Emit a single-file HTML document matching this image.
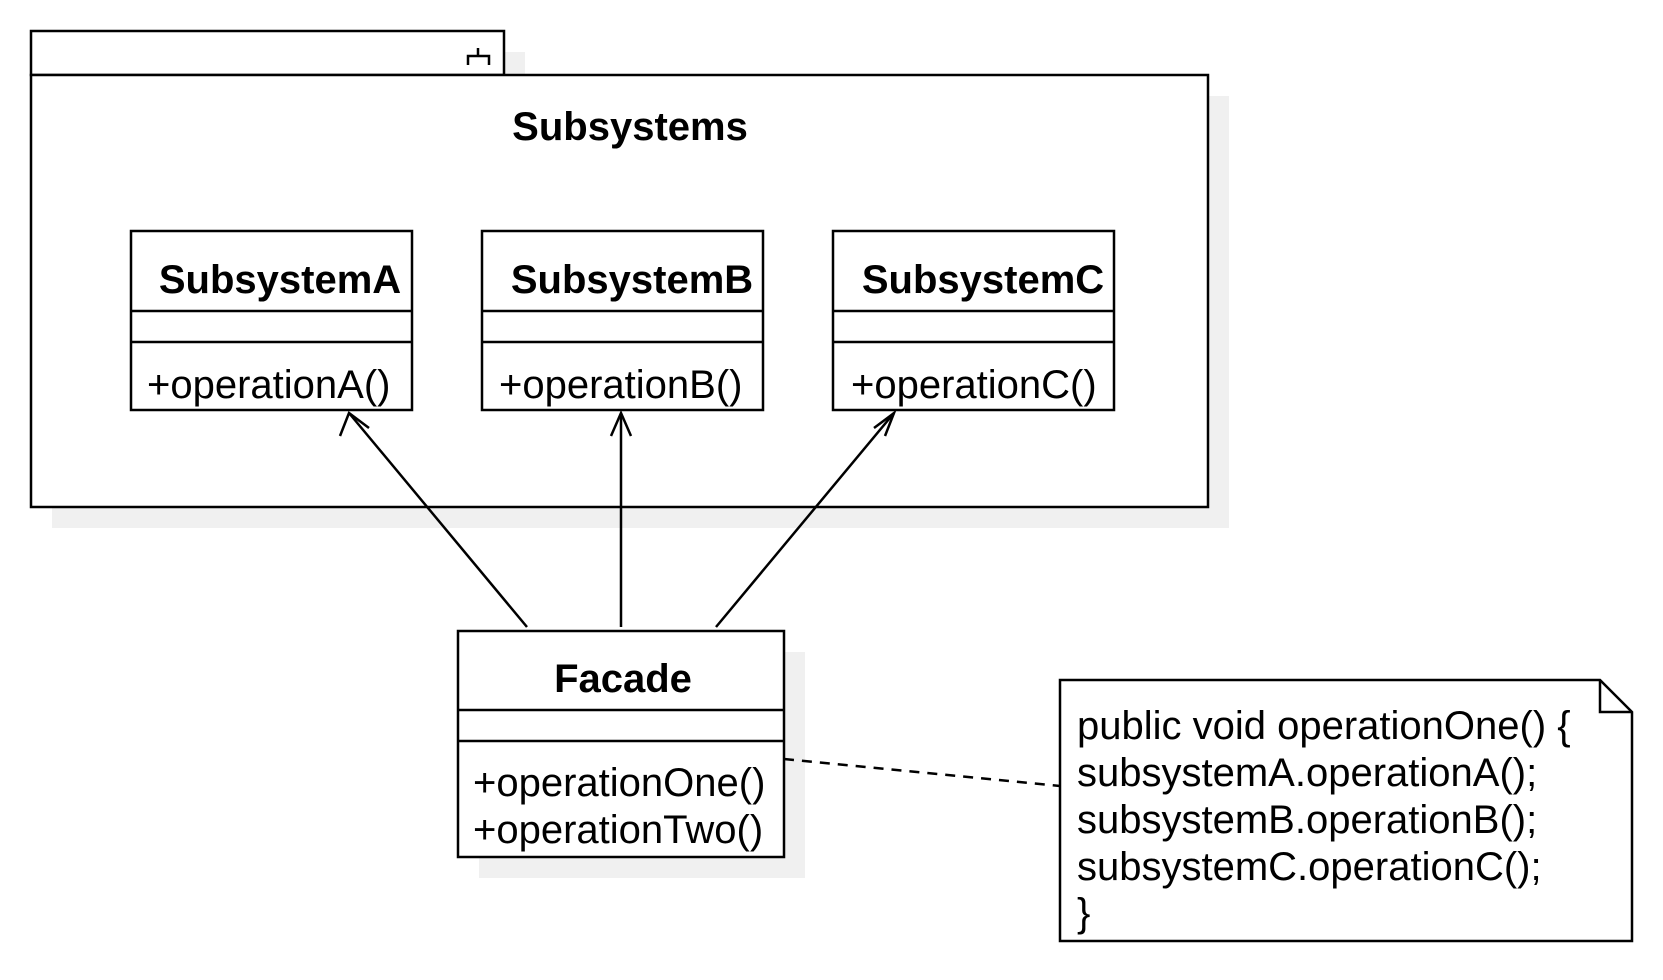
<!DOCTYPE html>
<html><head><style>html,body{margin:0;padding:0;background:#fff;}</style></head>
<body>
<svg width="1663" height="975" xmlns="http://www.w3.org/2000/svg" font-family="Liberation Sans, sans-serif">
<g fill="#f0f0f0">
<rect x="52" y="52" width="473" height="44"/>
<rect x="52" y="96" width="1177" height="432"/>
<rect x="152" y="252" width="281" height="179"/>
<rect x="503" y="252" width="281" height="179"/>
<rect x="854" y="252" width="281" height="179"/>
<rect x="479" y="652" width="326" height="226"/>
</g>
<g fill="#fff" stroke="#000" stroke-width="2.5">
<rect x="31" y="31" width="473" height="44"/>
<rect x="31" y="75" width="1177" height="432"/>
<rect x="131" y="231" width="281" height="179"/>
<rect x="482" y="231" width="281" height="179"/>
<rect x="833" y="231" width="281" height="179"/>
<rect x="458" y="631" width="326" height="226"/>
<path d="M1060 680 H1600 L1632 712 V941 H1060 Z"/>
<path d="M1600 680 V712 H1632" fill="none"/>
<path d="M131 311H412M131 342H412M482 311H763M482 342H763M833 311H1114M833 342H1114M458 710H784M458 741H784" fill="none"/>
<path d="M468 65V56H489V65M478 56V48" fill="none"/>
<path d="M527 627L349 413M621 627V413M716 627L894 413" fill="none"/>
<path d="M340 436L349 413L369 428M611 436L621 413L631 436M874 428L894 413L885 436" fill="none"/>
<path d="M784 759L1060 786" fill="none" stroke-dasharray="10,8"/>
</g>
<g font-weight="bold" text-anchor="middle">
<text x="630" y="140" font-size="40">Subsystems</text>
<text x="280" y="293" font-size="40">SubsystemA</text>
<text x="632" y="293" font-size="40">SubsystemB</text>
<text x="983" y="293" font-size="40">SubsystemC</text>
<text x="623" y="692" font-size="40">Facade</text>
</g>
<g font-size="40">
<text x="147" y="398">+operationA()</text>
<text x="499" y="398">+operationB()</text>
<text x="851" y="398">+operationC()</text>
<text x="473" y="796">+operationOne()</text>
<text x="473" y="843">+operationTwo()</text>
</g>
<g font-size="40">
<text x="1077" y="739">public void operationOne() {</text>
<text x="1077" y="786">subsystemA.operationA();</text>
<text x="1077" y="833">subsystemB.operationB();</text>
<text x="1077" y="880">subsystemC.operationC();</text>
<text x="1077" y="926">}</text>
</g>
</svg>
</body></html>
